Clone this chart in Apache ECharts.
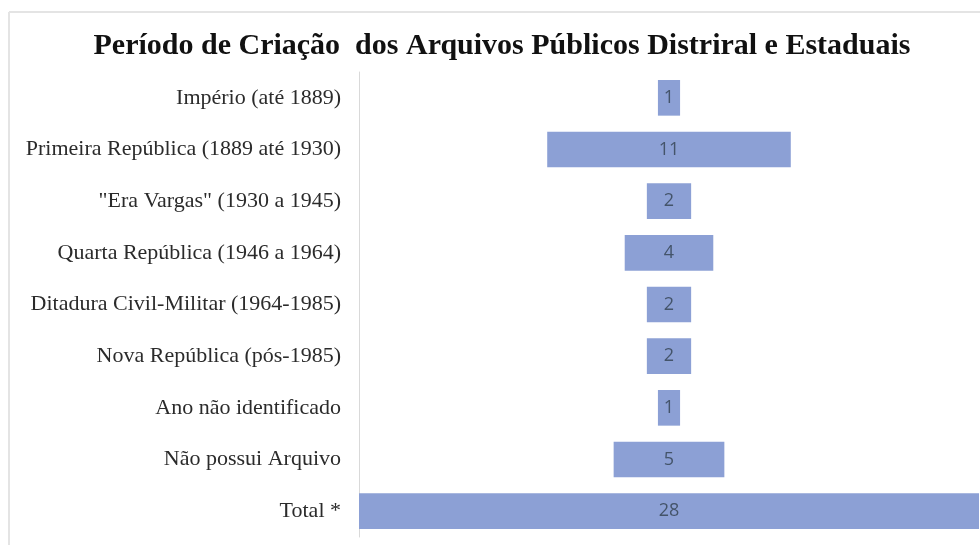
<!DOCTYPE html>
<html>
<head>
<meta charset="utf-8">
<script src="https://cdn.jsdelivr.net/npm/echarts@6/dist/echarts.min.js"></script>
<style>
  html, body { margin: 0; padding: 0; background: #fff; }
  #main { width: 980px; height: 545px; }
</style>
</head>
<body>
<div id="main"></div>
<script>
const categories = [
  'Império (até 1889)',
  'Primeira República (1889 até 1930)',
  '"Era Vargas" (1930 a 1945)',
  'Quarta República (1946 a 1964)',
  'Ditadura Civil-Militar (1964-1985)',
  'Nova República (pós-1985)',
  'Ano não identificado',
  'Não possui Arquivo',
  'Total *'
]
const values = [1, 11, 2, 4, 2, 2, 1, 5, 28]
const maxValue = 28

// transparent spacer so each bar sits centred on the axis
const offsets = values.map(v => (maxValue - v) / 2)

const chart = echarts.init(document.getElementById('main'))
const option = {
  animation: false,
  title: {
    text: 'Período de Criação  dos Arquivos Públicos Distriral e Estaduais',
    left: 497,
    textAlign: 'center',
    top: 26,
    textStyle: {
      fontFamily: 'Liberation Serif',
      fontWeight: 'bold',
      fontSize: 30,
      color: '#111',
    },
  },
  graphic: [
    { type: 'line', shape: { x1: 9, y1: 12, x2: 980, y2: 12 }, style: { stroke: '#e4e4e4', lineWidth: 2 } },
    { type: 'line', shape: { x1: 9, y1: 12, x2: 9, y2: 545 }, style: { stroke: '#e4e4e4', lineWidth: 2 } },
  ],
  grid: {
    left: 359,
    top: 72,
    width: 620,
    height: 465,
  },
  xAxis: {
    type: 'value',
    min: 0,
    max: maxValue,
    show: false,
  },
  yAxis: {
    type: 'category',
    inverse: true,
    data: categories,
    axisTick: { show: false },
    axisLine: { show: true, lineStyle: { color: '#d9d9d9', width: 1 } },
    axisLabel: {
      margin: 18,
      fontFamily: 'Liberation Serif',
      fontSize: 22,
      color: '#2b2b2b',
    },
  },
  series: [
    {
      type: 'bar',
      stack: 'f',
      data: offsets,
      itemStyle: { color: 'transparent' },
      silent: true,
      barCategoryGap: '31%',
    },
    {
      type: 'bar',
      stack: 'f',
      data: values,
      itemStyle: { color: '#8ca0d5' },
      barCategoryGap: '31%',
      label: {
        show: true,
        position: 'inside',
        fontFamily: 'Open Sans',
        fontSize: 18,
        color: '#44546a',
      },
    },
  ],
}
option && chart.setOption(option)
</script>
</body>
</html>
